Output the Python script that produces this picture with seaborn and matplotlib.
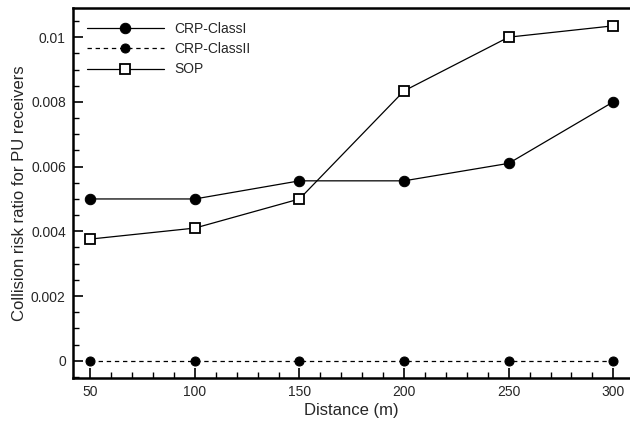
import numpy as np
import pandas as pd
import seaborn as sns
import matplotlib.pyplot as plt
from matplotlib.ticker import MultipleLocator, FuncFormatter

# %% Data
distance = [50, 100, 150, 200, 250, 300]
crp_class1 = [0.005, 0.005, 0.00556, 0.00556, 0.0061, 0.008]
crp_class2 = [0.0, 0.0, 0.0, 0.0, 0.0, 0.0]
sop = [0.00376, 0.0041, 0.005, 0.00834, 0.0100, 0.01035]

series_names = ['CRP-ClassI', 'CRP-ClassII', 'SOP']

# %% Plot
sns.set_style('ticks')
plt.rcParams['font.family'] = ['Liberation Sans', 'DejaVu Sans']

fig = plt.figure(figsize=(6.3, 4.23), dpi=100)
ax = fig.add_axes([0.1154, 0.107, 0.8846, 0.874])

sns.lineplot(x=distance, y=crp_class1, ax=ax, color='black', linewidth=0.9,
             marker='o', markersize=7.5, markerfacecolor='black',
             markeredgecolor='black', label=series_names[0])
sns.lineplot(x=distance, y=crp_class2, ax=ax, color='black', linewidth=0.9,
             linestyle=(0, (3.5, 3)), marker='o', markersize=6.5,
             markerfacecolor='black', markeredgecolor='black',
             label=series_names[1])
sns.lineplot(x=distance, y=sop, ax=ax, color='black', linewidth=0.9,
             marker='s', markersize=7, markerfacecolor='white',
             markeredgecolor='black', markeredgewidth=1.3,
             label=series_names[2])

ax.set_xlim(41.6, 308)
ax.set_ylim(-0.000525, 0.0109)
ax.set_xticks(distance)
ax.xaxis.set_minor_locator(MultipleLocator(10))
ax.yaxis.set_major_locator(MultipleLocator(0.002))
ax.yaxis.set_minor_locator(MultipleLocator(0.0005))
ax.yaxis.set_major_formatter(FuncFormatter(lambda v, p: '%g' % round(v, 6)))

ax.tick_params(which='major', direction='in', length=7, width=1.2,
               labelsize=10, color='black')
ax.tick_params(which='minor', direction='in', length=4, width=1.0,
               color='black')
ax.tick_params(axis='x', which='major', pad=5, top=False)
ax.tick_params(axis='x', which='minor', top=False)
ax.tick_params(axis='y', which='major', pad=5, right=False)
ax.tick_params(axis='y', which='minor', right=False)

for side in ['left', 'bottom', 'top']:
    ax.spines[side].set_linewidth(1.8)
    ax.spines[side].set_color('black')
ax.spines['right'].set_visible(False)

ax.set_xlabel('Distance (m)', fontsize=12, labelpad=3)
ax.set_ylabel('Collision risk ratio for PU receivers', fontsize=12,
              labelpad=3)

ax.legend(loc='upper left', frameon=False, fontsize=10, handlelength=5.6,
          handletextpad=0.7, labelspacing=0.45,
          bbox_to_anchor=(0.0, 1.0), borderaxespad=0.6)

fig.savefig('out.png', dpi=100)
